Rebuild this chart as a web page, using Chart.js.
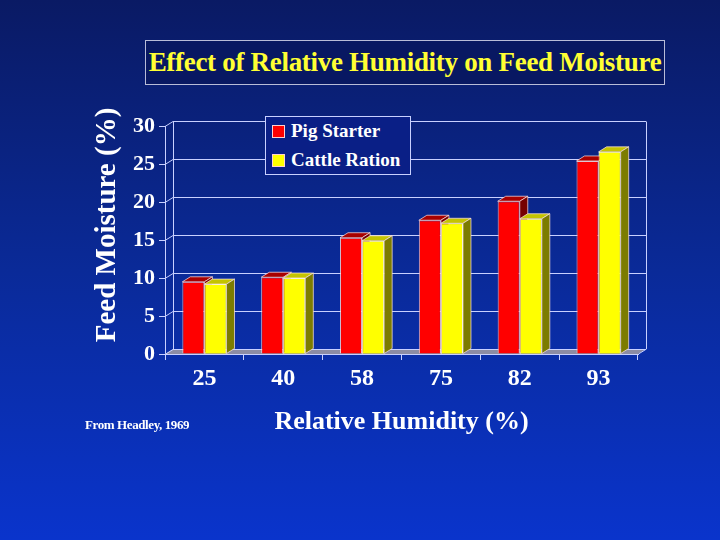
<!DOCTYPE html>
<html>
<head>
<meta charset="utf-8">
<script src="https://cdn.jsdelivr.net/npm/chart.js@4"></script>
<style>
  body { margin: 0; }
  #wrap {
    position: relative; width: 720px; height: 540px; overflow: hidden;
    background: linear-gradient(to bottom, #0a1a64 0%, #0a2a98 50%, #0a34cc 100%);
    font-family: "Liberation Serif", "Times New Roman", serif; font-weight: bold;
  }
  #title {
    position: absolute; left: 145px; top: 40px; width: 518px; height: 43px;
    border: 1px solid #b8bcd8; background: #081862; color: #ffff33;
    font-size: 27px; line-height: 43px; text-align: center; letter-spacing: -0.3px;
  }
  #legend {
    position: absolute; left: 265px; top: 116px; width: 144px; height: 57px;
    border: 1px solid #c8d0ff; background: #0a1f86; color: #fff; font-size: 19px;
  }
  .row { position: absolute; left: 6px; height: 22px; line-height: 22px; white-space: nowrap; }
  .sw { display: inline-block; width: 11px; height: 11px; border: 1px solid #ffd0d0; margin-right: 6px; vertical-align: -1px; }
  #ytitle {
    position: absolute; left: 105px; top: 225px; width: 300px; margin-left: -150px; height: 34px; margin-top: -17px;
    line-height: 34px; text-align: center; color: #fff; font-size: 29px; transform: rotate(-90deg); white-space: nowrap;
  }
  #note { position: absolute; left: 85px; top: 417px; color: #fff; font-size: 13px; letter-spacing: -0.4px; }
  canvas { position: absolute; left: 0; top: 0; }
</style>
</head>
<body>
<div id="wrap">
  <canvas id="chart_out" width="720" height="540"></canvas>
  <div id="title">Effect of Relative Humidity on Feed Moisture</div>
  <div id="legend">
    <div class="row" style="top:3px"><span class="sw" style="background:#ff0000"></span>Pig Starter</div>
    <div class="row" style="top:32px"><span class="sw" style="background:#ffff00"></span>Cattle Ration</div>
  </div>
  <div id="ytitle">Feed Moisture (%)</div>
  <div id="note">From Headley, 1969</div>
</div>
<script>
var humidity = ['25', '40', '58', '75', '82', '93'];
var pigStarter = [9.5, 10.1, 15.3, 17.6, 20.1, 25.4];
var cattleRation = [9.2, 10.0, 14.9, 17.2, 17.8, 26.6];
var yTicks = [0, 5, 10, 15, 20, 25, 30];

var dx = 8, dy = 5; // depth of the fake 3d
var lineCol = '#c8d0ff';
var serif = '"Liberation Serif", "Times New Roman", serif';
var shades = [['#a80000', '#760000'], ['#c4c400', '#7c7c00']];

function drawFaces(ctx, bar, shade) {
  var p = bar.getProps(['x', 'y', 'base', 'width'], true);
  var l = p.x - p.width / 2, r = p.x + p.width / 2;
  ctx.save();
  ctx.strokeStyle = 'rgba(255,230,230,0.7)';
  ctx.lineWidth = 1;
  // top face
  ctx.fillStyle = shade[0];
  ctx.beginPath();
  ctx.moveTo(l, p.y);
  ctx.lineTo(l + dx, p.y - dy);
  ctx.lineTo(r + dx, p.y - dy);
  ctx.lineTo(r, p.y);
  ctx.closePath();
  ctx.fill();
  ctx.stroke();
  // side face
  ctx.fillStyle = shade[1];
  ctx.beginPath();
  ctx.moveTo(r, p.y);
  ctx.lineTo(r + dx, p.y - dy);
  ctx.lineTo(r + dx, p.base - dy);
  ctx.lineTo(r, p.base);
  ctx.closePath();
  ctx.fill();
  ctx.stroke();
  ctx.restore();
}

// back wall, floor and the 3d faces of the bars
var wallPlugin = {
  id: 'wall',
  beforeDatasetsDraw: function(chart) {
    var ctx = chart.ctx, a = chart.chartArea, ys = chart.scales.y;
    ctx.save();
    ctx.fillStyle = '#8c8ca4';
    ctx.beginPath();
    ctx.moveTo(a.left, a.bottom);
    ctx.lineTo(a.left + dx, a.bottom - dy);
    ctx.lineTo(a.right + dx, a.bottom - dy);
    ctx.lineTo(a.right, a.bottom);
    ctx.closePath();
    ctx.fill();
    ctx.strokeStyle = lineCol;
    ctx.lineWidth = 1;
    for (var i = 0; i < yTicks.length; i++) {
      var y = Math.round(ys.getPixelForValue(yTicks[i])) + 0.5;
      ctx.beginPath();
      ctx.moveTo(a.left, y);
      ctx.lineTo(a.left + dx, y - dy);
      ctx.lineTo(a.right + dx, y - dy);
      ctx.stroke();
    }
    var top = Math.round(ys.getPixelForValue(30)) + 0.5;
    ctx.beginPath();
    ctx.moveTo(a.left + dx + 0.5, top - dy);
    ctx.lineTo(a.left + dx + 0.5, a.bottom - dy);
    ctx.moveTo(a.right + dx + 0.5, top - dy);
    ctx.lineTo(a.right + dx + 0.5, a.bottom - dy);
    ctx.lineTo(a.right + 0.5, a.bottom);
    ctx.stroke();
    ctx.restore();
  },
  afterDatasetsDraw: function(chart) {
    var ctx = chart.ctx;
    // red first, then the yellow bars again on top so they hide the red sides
    chart.getDatasetMeta(0).data.forEach(function(bar) { drawFaces(ctx, bar, shades[0]); });
    chart.getDatasetMeta(1).data.forEach(function(bar) {
      bar.draw(ctx);
      drawFaces(ctx, bar, shades[1]);
    });
  }
};

var ctx = document.getElementById('chart_out').getContext('2d');
var cData = new Chart(ctx, {
  type: 'bar',
  data: {
    labels: humidity,
    datasets: [
      { label: 'Pig Starter', data: pigStarter, backgroundColor: '#ff0000', borderColor: 'rgba(255,220,220,0.8)', borderWidth: 1 },
      { label: 'Cattle Ration', data: cattleRation, backgroundColor: '#ffff00', borderColor: 'rgba(255,255,220,0.8)', borderWidth: 1 }
    ]
  },
  options: {
    responsive: false,
    animation: false,
    layout: { padding: { left: 88, right: 82, top: 126, bottom: 100 } },
    datasets: { bar: { categoryPercentage: 0.56, barPercentage: 1 } },
    plugins: { legend: { display: false }, tooltip: { enabled: false } },
    scales: {
      x: {
        afterFit: function(s) { s.height = 86; },
        grid: { display: true, drawOnChartArea: false, tickLength: 6, color: lineCol, offset: true },
        border: { display: true, color: lineCol },
        ticks: { color: '#ffffff', padding: 4, font: { family: serif, size: 24, weight: 'bold' } },
        title: { display: true, text: 'Relative Humidity (%)', color: '#ffffff', padding: { top: 4, bottom: 2 },
          font: { family: serif, size: 26, weight: 'bold' } }
      },
      y: {
        min: 0, max: 30,
        afterFit: function(s) { s.width = 77; },
        afterBuildTicks: function(s) { s.ticks = yTicks.map(function(v) { return { value: v }; }); },
        grid: { display: true, drawOnChartArea: false, tickLength: 6, color: lineCol },
        border: { display: true, color: lineCol },
        ticks: { color: '#ffffff', padding: 4, font: { family: serif, size: 22, weight: 'bold' } }
      }
    }
  },
  plugins: [wallPlugin]
});
</script>
</body>
</html>
